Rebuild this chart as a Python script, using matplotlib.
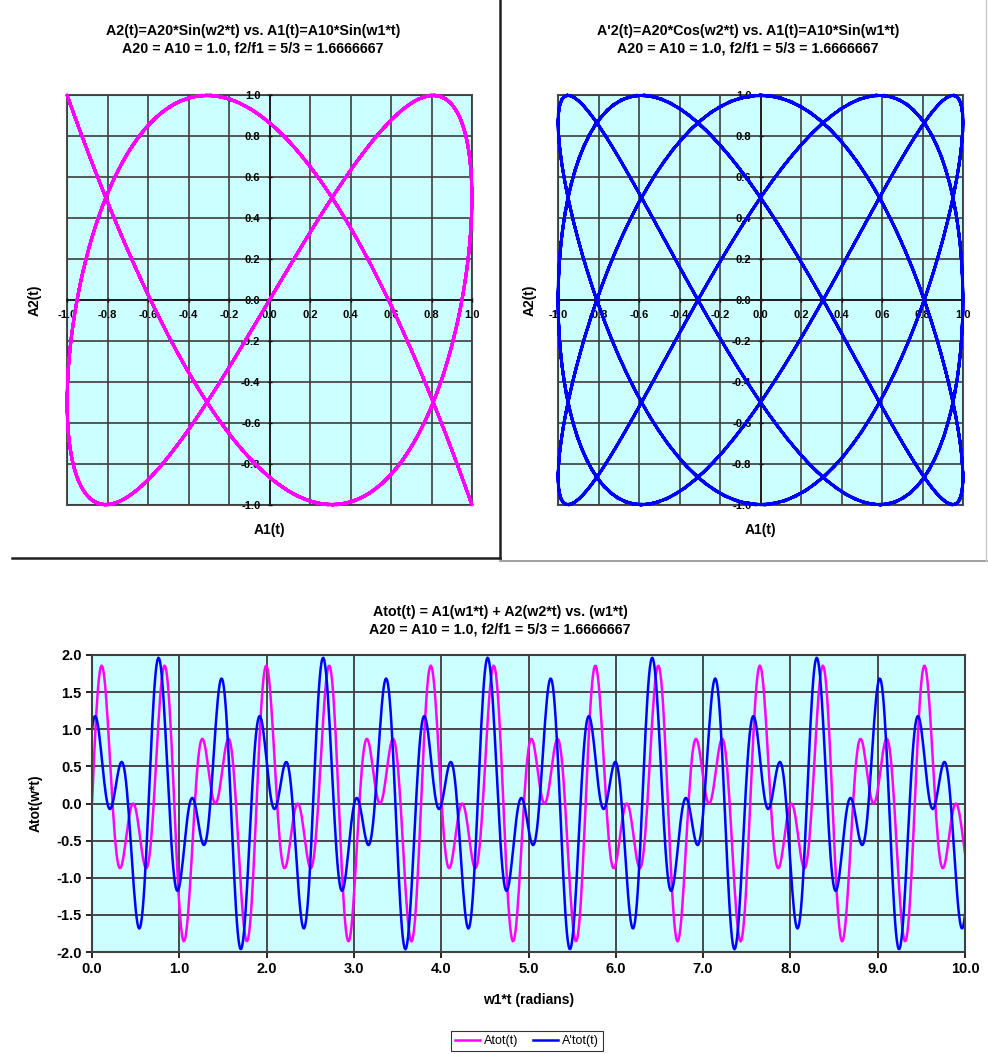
import numpy as np
import matplotlib.pyplot as plt
from matplotlib.lines import Line2D

plt.rcParams['font.family'] = ['Liberation Sans', 'DejaVu Sans']

# Parameters stated in the chart titles
A10 = 1.0
A20 = 1.0
f2_over_f1 = 5.0 / 3.0

# Bottom chart horizontal axis (w1*t) and sampling of the worksheet columns
w1t_start = 0.0
w1t_stop = 10.0
w1t_step = 0.01
angle_per_unit = 10.0  # phase advance per axis unit, read from the peak spacing

# Tick labels
liss_ticks = [-1.0, -0.8, -0.6, -0.4, -0.2, 0.0, 0.2, 0.4, 0.6, 0.8, 1.0]
atot_xticks = [0.0, 1.0, 2.0, 3.0, 4.0, 5.0, 6.0, 7.0, 8.0, 9.0, 10.0]
atot_yticks = [-2.0, -1.5, -1.0, -0.5, 0.0, 0.5, 1.0, 1.5, 2.0]

titles = [
    "A2(t)=A20*Sin(w2*t) vs. A1(t)=A10*Sin(w1*t)\nA20 = A10 = 1.0, f2/f1 = 5/3 = 1.6666667",
    "A'2(t)=A20*Cos(w2*t) vs. A1(t)=A10*Sin(w1*t)\nA20 = A10 = 1.0, f2/f1 = 5/3 = 1.6666667",
    "Atot(t) = A1(w1*t) + A2(w2*t) vs. (w1*t)\nA20 = A10 = 1.0, f2/f1 = 5/3 = 1.6666667",
]
series_names = ["Atot(t)", "A'tot(t)"]

# worksheet columns
w1t = np.arange(w1t_start, w1t_stop + w1t_step / 2, w1t_step)
phase = angle_per_unit * w1t
a1 = A10 * np.sin(phase)
a2 = A20 * np.sin(f2_over_f1 * phase)
a2_cos = A20 * np.cos(f2_over_f1 * phase)
atot = a1 + a2
atot_cos = a1 + a2_cos

bg = '#CCFFFF'
magenta = '#FF00FF'
blue = '#0000FF'
grid_col = '#3c3c3c'

W, H = 988, 1054
fig = plt.figure(figsize=(W / 100, H / 100), dpi=100)


def px_rect(left, top, right, bottom):
    return [left / W, 1 - bottom / H, (right - left) / W, (bottom - top) / H]


def lissajous(rect, x, y, color, ylab_x):
    ax = fig.add_axes(rect)
    ax.set_facecolor(bg)
    ax.plot(x, y, color=color, lw=2.0, zorder=3, clip_on=False)
    ax.set_xlim(-1, 1)
    ax.set_ylim(-1, 1)
    ax.set_xticks(liss_ticks)
    ax.set_yticks(liss_ticks)
    ax.set_xticklabels(['%.1f' % v for v in liss_ticks])
    ax.set_yticklabels(['%.1f' % v for v in liss_ticks])
    ax.grid(True, color=grid_col, lw=1.2)
    ax.set_axisbelow(True)
    for s in ['left', 'bottom']:
        ax.spines[s].set_position('zero')
        ax.spines[s].set_color('#202020')
        ax.spines[s].set_linewidth(1.4)
    for s in ['top', 'right']:
        ax.spines[s].set_visible(False)
    ax.patch.set_edgecolor('#505050')
    ax.patch.set_linewidth(1.5)
    ax.tick_params(labelsize=8, width=1, length=3, direction='inout')
    ax.tick_params(axis='x', pad=6)
    ax.tick_params(axis='y', pad=5)
    for lbl in ax.get_xticklabels() + ax.get_yticklabels():
        lbl.set_fontweight('bold')
    ax.set_xlabel('A1(t)', fontsize=10, fontweight='bold')
    ax.set_ylabel('A2(t)', fontsize=10, fontweight='bold')
    ax.xaxis.set_label_coords(0.5, -0.045)
    ax.yaxis.set_label_coords(ylab_x, 0.5)
    return ax


lissajous(px_rect(67, 95, 472, 505), a1, a2, magenta, -0.062)
lissajous(px_rect(558, 95, 963, 505), a1, a2_cos, blue, -0.052)

title_kw = dict(ha='center', va='center', fontsize=10.3, fontweight='bold', linespacing=1.3)
fig.text(253 / W, 1 - 40 / H, titles[0], **title_kw)
fig.text(748 / W, 1 - 40 / H, titles[1], **title_kw)

# bottom chart
ax = fig.add_axes(px_rect(92, 655, 965, 952))
ax.set_facecolor(bg)
l1, = ax.plot(w1t, atot, color=magenta, lw=1.8)
l2, = ax.plot(w1t, atot_cos, color=blue, lw=1.8)
ax.set_xlim(w1t_start, w1t_stop)
ax.set_ylim(-2, 2)
ax.set_xticks(atot_xticks)
ax.set_yticks(atot_yticks)
ax.set_xticklabels(['%.1f' % v for v in atot_xticks])
ax.set_yticklabels(['%.1f' % v for v in atot_yticks])
ax.grid(True, color=grid_col, lw=1.3)
ax.set_axisbelow(True)
for s in ax.spines.values():
    s.set_color('#404040')
    s.set_linewidth(1.5)
ax.tick_params(labelsize=10.5, width=1.2, length=4, direction='out')
for lbl in ax.get_xticklabels() + ax.get_yticklabels():
    lbl.set_fontweight('bold')
ax.set_xlabel('w1*t (radians)', fontsize=10, fontweight='bold', labelpad=12)
ax.set_ylabel('Atot(w*t)', fontsize=10, fontweight='bold', labelpad=10)

fig.text(500 / W, 1 - 621 / H, titles[2], **title_kw)

fig.legend([l1, l2], series_names, loc='center', bbox_to_anchor=(527 / W, 1 - 1041 / H),
           ncol=2, fontsize=9, frameon=True, fancybox=False, edgecolor='black',
           handlelength=2.0, columnspacing=1.2, handletextpad=0.3, borderpad=0.35)
fig.legends[0].get_frame().set_linewidth(0.8)

# panel borders
fig.add_artist(Line2D([500 / W, 500 / W], [1.0, 1 - 558 / H], color='#202020', lw=1.8))
fig.add_artist(Line2D([12 / W, 500 / W], [1 - 558 / H, 1 - 558 / H], color='#202020', lw=1.8))
fig.add_artist(Line2D([500 / W, 1.0], [1 - 561 / H, 1 - 561 / H], color='#909090', lw=1.2))
fig.add_artist(Line2D([986 / W, 986 / W], [1.0, 1 - 561 / H], color='#c8c8c8', lw=1.0))

fig.savefig('out.png', dpi=100)
